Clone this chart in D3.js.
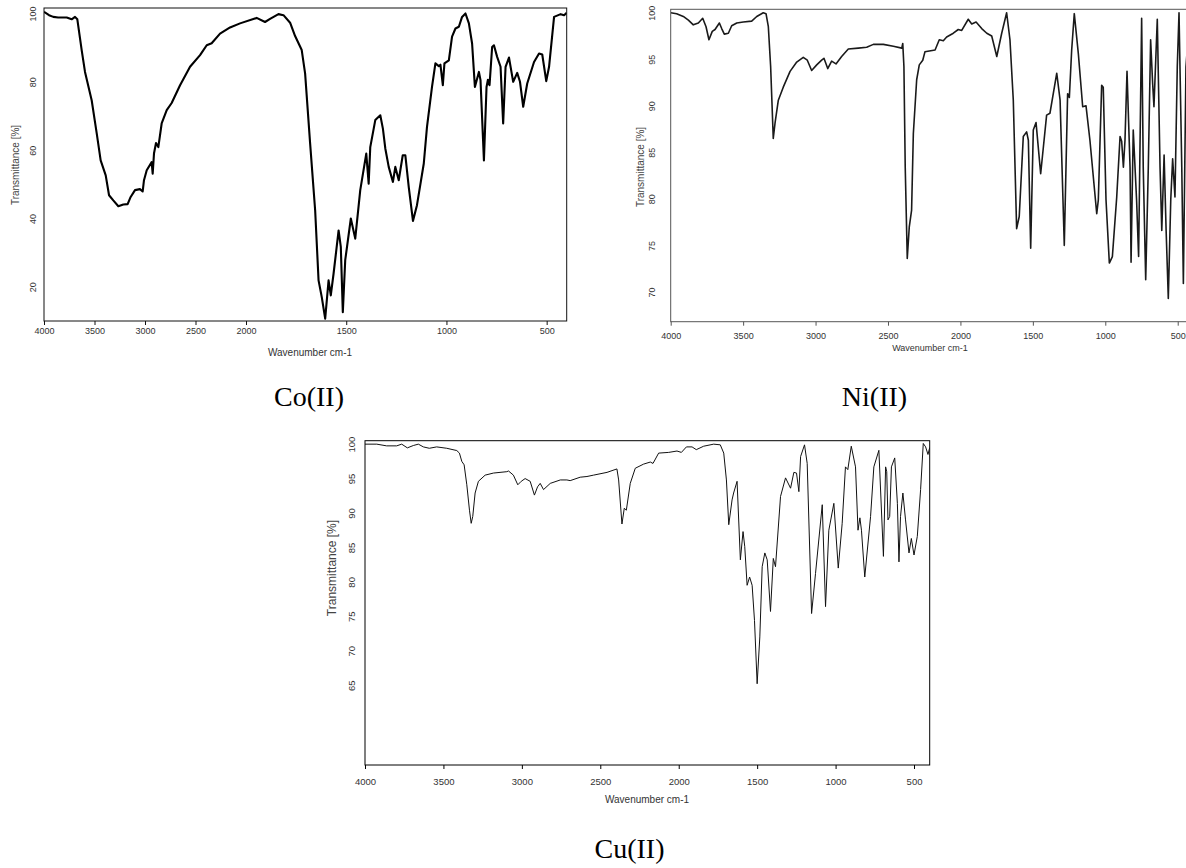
<!DOCTYPE html>
<html>
<head>
<meta charset="utf-8">
<script src="https://cdn.jsdelivr.net/npm/d3@7"></script>
<style>
  html, body { margin: 0; padding: 0; background: #fff; }
  svg { display: block; }
</style>
</head>
<body>
<svg id="chart" width="1186" height="868"></svg>
<script>
// ---------------- DATA ----------------
const xTickValues = [4000, 3500, 3000, 2500, 2000, 1500, 1000, 500];
const coYTicks = [20, 40, 60, 80, 100];
const niYTicks = [70, 75, 80, 85, 90, 95, 100];
const cuYTicks = [65, 70, 75, 80, 85, 90, 95, 100];
const panelTitles = ["Co(II)", "Ni(II)", "Cu(II)"];
const xAxisTitle = "Wavenumber cm-1";
const yAxisTitle = "Transmittance [%]";

const coWavenumber = [4000,3950,3908,3860,3775,3726,3693,3670,3627,3594,3528,3478,3439,3389,3356,3314,3264,3215,3172,3142,3099,3050,3023,3010,2983,2934,2924,2911,2891,2868,2835,2785,2736,2653,2554,2455,2389,2340,2257,2158,2059,1947,1905,1880,1838,1813,1780,1755,1722,1705,1680,1655,1638,1622,1605,1588,1577,1563,1538,1527,1517,1505,1477,1455,1430,1400,1388,1380,1355,1330,1317,1305,1288,1267,1255,1238,1218,1205,1188,1167,1147,1113,1097,1072,1055,1038,1030,1018,1010,988,972,955,938,922,905,888,872,858,838,830,813,800,793,785,772,763,747,730,717,705,688,667,647,633,617,597,563,538,522,502,488,463,430,413,400];
const coTransmittance = [100.5,99.5,99,98.8,98.8,98.3,99,98.3,89.3,82.9,74.6,64.9,57,52.6,46.8,45.3,43.6,44.1,44.2,46.3,48.3,48.6,47.9,51.2,54.1,56.5,53.1,59,62.1,60.9,67.8,71.7,73.8,79,84.4,87.8,90.7,91.3,94.1,95.9,97.1,98.7,97.5,98.4,99.8,99.5,97.3,93.4,89.3,82.4,61.9,42.4,21.9,17,10.7,21.9,17.5,23.9,36.5,31.7,12.6,27.8,40,34.1,48.3,59,50.2,60.9,68.8,70.2,66.3,60.5,55.1,50.7,55.1,51.2,58.5,58.5,49.2,39.3,43.9,56.1,66.8,78.5,85.4,84.6,85,79,85.4,86.3,93.2,95.6,96.1,99,100,97.1,91.2,78.5,82.9,80.5,57,78.5,80.6,79,90.2,90.7,87.3,84.4,67.8,84.4,87.1,80,82.6,80,72.7,79.5,85.8,88.3,88,80.2,84.4,99,99.8,99.5,100.2];

const niWavenumber = [4000,3959,3913,3878,3844,3809,3779,3756,3736,3713,3694,3664,3648,3630,3602,3579,3544,3499,3441,3406,3361,3342,3326,3310,3299,3292,3280,3257,3223,3176,3130,3085,3057,3027,2992,2958,2942,2916,2889,2859,2820,2774,2705,2647,2601,2532,2463,2405,2398,2390,2381,2367,2353,2337,2325,2302,2284,2260,2245,2175,2146,2118,2095,2049,2015,1991,1946,1922,1892,1853,1818,1784,1749,1715,1681,1658,1635,1612,1594,1566,1543,1531,1515,1497,1478,1446,1405,1382,1335,1312,1283,1260,1248,1232,1214,1186,1156,1133,1106,1059,1048,1025,1014,995,972,951,921,898,887,875,864,850,829,822,807,784,770,749,738,721,703,687,673,664,641,622,610,594,580,565,548,535,519,503,491,472,461,443,420];
const niTransmittance = [100,99.9,99.6,99.2,98.7,98.9,99.4,98.5,97.1,98,98.2,98.9,98.3,97.7,97.8,98.6,98.9,99,99.1,99.6,100,99.9,98.5,94.2,89.5,86.5,88.1,90.6,92,93.7,94.7,95.2,94.9,93.8,94.4,94.9,95.1,94,94.8,94.5,95.3,96.1,96.2,96.3,96.6,96.6,96.4,96.2,96.7,94.2,83.4,73.6,77,78.8,87,92.8,94.4,94.9,95.8,96,97.1,97,97.4,97.8,98.2,98.1,99.3,98.8,99,98.3,97.8,97.5,95.3,97.8,100,97.1,90.6,76.8,78.1,86.7,87.2,86.3,74.7,87.4,88.2,82.7,89,89.2,93.5,90.6,75,91.3,90.9,96,99.9,95.6,89.9,90,86.3,78.4,79.9,92.2,92,79.9,73.1,73.8,80.2,86.7,86.2,83.4,86.3,93.7,83.4,73.2,87.4,79.9,73.8,99.4,83.4,71.3,83.4,97.1,92.4,89.9,99.3,83.4,76.6,84.7,76.6,69.3,79.9,84.3,80.2,94.2,100,83.4,70.9,94.2,99];

const cuWavenumber = [4000,3925,3862,3798,3766,3730,3692,3660,3628,3590,3543,3479,3415,3398,3383,3368,3351,3334,3323,3313,3298,3277,3234,3181,3096,3085,3054,3026,3004,2979,2947,2920,2900,2883,2862,2819,2755,2713,2692,2628,2585,2543,2457,2394,2383,2362,2347,2334,2309,2277,2224,2181,2164,2128,2064,2011,1983,1951,1915,1888,1841,1777,1735,1713,1696,1681,1660,1650,1628,1607,1590,1579,1564,1548,1532,1517,1500,1483,1468,1451,1436,1415,1397,1383,1351,1319,1287,1266,1249,1234,1223,1198,1181,1153,1128,1085,1064,1043,1011,983,958,937,922,900,873,857,845,835,814,777,756,724,695,681,674,666,655,644,623,606,596,586,571,554,532,517,500,479,458,441,426,411,400];
const cuTransmittance = [100,100,99.75,99.75,100,99.46,99.8,100,99.6,99.4,99.6,99.4,99.07,98.7,97.5,97,94.1,90.4,88.5,89.5,92.9,94.6,95.5,95.8,96,96.1,95.5,94.1,94.6,95,94.6,92.6,93.8,94.3,93.4,94.3,94.8,94.8,94.7,95.2,95.3,95.5,95.9,96.4,94.8,88.4,90.7,90.4,94.3,96.5,97.1,97.4,97.2,98.7,98.8,99,98.8,99.6,99.6,99.2,99.7,100,99.9,98.7,94.8,88.3,91.9,92.9,94.6,83.2,87.3,85.1,79.5,80.7,79.5,74.4,65.2,72,82.2,84.2,83.2,75.7,83.4,82.2,92.4,95.1,93.6,95.9,95.8,93.1,98.2,99.9,97.2,75.4,81.2,91.2,76.4,87.5,91.4,82,88.5,96.7,96.3,99.7,96.7,87.5,89.3,87.5,80.7,89.5,96.7,99.1,83.7,96.7,96,89,89.5,96.7,98,91.4,82.9,89.5,92.9,89,84.2,86.3,83.9,86.6,93.4,100.1,99.6,98.5,99.5];

// ---------------- LAYOUT ----------------
const svg = d3.select("#chart");
const FONT = "'Liberation Sans', Arial, sans-serif";
const SERIF = "'Liberation Serif', 'Times New Roman', serif";

const panels = [
  {
    id: "co", title: panelTitles[0],
    wn: coWavenumber, tr: coTransmittance, yTicks: coYTicks,
    xDomain: [4000, 2000, 400], xRange: [44, 246, 566.7],
    yDomain: [10, 101.6], yRange: [321, 8],
    lineWidth: 2.1, lineColor: "#000", frameColor: "#111",
    xTickPad: 3, yTickOff: 7.7, tickFont: 9,
    xLabel: {x: 310, y: 355.5, size: 10}, yLabel: {x: 18.5, y: 165, size: 10},
    caption: {x: 309, y: 406}
  },
  {
    id: "ni", title: panelTitles[1],
    wn: niWavenumber, tr: niTransmittance, yTicks: niYTicks,
    xDomain: [4000, 400], xRange: [670.7, 1192.2],
    yDomain: [66.8, 100.37], yRange: [321.7, 9.3],
    lineWidth: 1.6, lineColor: "#1a1a1a", frameColor: "#555",
    xTickPad: 7, yTickOff: 15.7, tickFont: 9,
    xLabel: {x: 930, y: 351, size: 9}, yLabel: {x: 643.5, y: 167, size: 10},
    caption: {x: 874.5, y: 406}
  },
  {
    id: "cu", title: panelTitles[2],
    wn: cuWavenumber, tr: cuTransmittance, yTicks: cuYTicks,
    xDomain: [4000, 400], xRange: [365, 929.7],
    yDomain: [53.4, 100.5], yRange: [765, 440.7],
    lineWidth: 1, lineColor: "#111", frameColor: "#000",
    xTickPad: 9, yTickOff: 10, tickFont: 9.5,
    xLabel: {x: 647, y: 802.5, size: 10}, yLabel: {x: 336, y: 568, size: 12},
    caption: {x: 629.5, y: 858}
  }
];

panels.forEach(p => {
  const x = d3.scaleLinear().domain(p.xDomain).range(p.xRange);
  const y = d3.scaleLinear().domain(p.yDomain).range(p.yRange);
  const x0 = p.xRange[0], x1 = p.xRange[p.xRange.length - 1];
  const yTop = p.yRange[1], yBot = p.yRange[0];

  const g = svg.append("g").attr("class", "panel-" + p.id);

  // clip
  svg.append("defs").append("clipPath").attr("id", "clip-" + p.id)
    .append("rect").attr("x", x0).attr("y", yTop)
    .attr("width", x1 - x0).attr("height", yBot - yTop);

  // spectrum line
  const pts = p.wn.map((w, i) => [w, p.tr[i]]);
  const line = d3.line().x(d => x(d[0])).y(d => y(d[1]));
  g.append("path")
    .datum(pts)
    .attr("clip-path", "url(#clip-" + p.id + ")")
    .attr("fill", "none")
    .attr("stroke", p.lineColor)
    .attr("stroke-width", p.lineWidth)
    .attr("stroke-linejoin", "round")
    .attr("d", line);

  // frame
  g.append("rect")
    .attr("x", x0).attr("y", yTop)
    .attr("width", x1 - x0).attr("height", yBot - yTop)
    .attr("fill", "none").attr("stroke", p.frameColor).attr("stroke-width", 1);

  // x axis
  const xAxis = d3.axisBottom(x).tickValues(xTickValues).tickSize(4)
    .tickSizeOuter(0).tickPadding(p.xTickPad).tickFormat(d3.format("d"));
  const gx = g.append("g").attr("transform", `translate(0,${yBot})`).call(xAxis);
  gx.select(".domain").remove();
  gx.selectAll("line").attr("stroke", p.frameColor);
  gx.selectAll("text").attr("font-family", FONT).attr("font-size", p.tickFont).attr("fill", "#333");

  // y axis with rotated labels
  const yAxis = d3.axisLeft(y).tickValues(p.yTicks).tickSize(0).tickSizeOuter(0);
  const gy = g.append("g").attr("transform", `translate(${x0},0)`).call(yAxis);
  gy.select(".domain").remove();
  gy.selectAll("text")
    .attr("x", 0).attr("dy", 0)
    .attr("transform", `translate(${-p.yTickOff},0) rotate(-90)`)
    .attr("text-anchor", "middle")
    .attr("font-family", FONT).attr("font-size", p.tickFont).attr("fill", "#333");

  // axis titles
  g.append("text")
    .attr("x", p.xLabel.x).attr("y", p.xLabel.y)
    .attr("text-anchor", "middle")
    .attr("font-family", FONT).attr("font-size", p.xLabel.size).attr("fill", "#333")
    .text(xAxisTitle);
  g.append("text")
    .attr("transform", `translate(${p.yLabel.x},${p.yLabel.y}) rotate(-90)`)
    .attr("text-anchor", "middle")
    .attr("font-family", FONT).attr("font-size", p.yLabel.size).attr("fill", "#444")
    .text(yAxisTitle);

  // caption
  svg.append("text")
    .attr("x", p.caption.x).attr("y", p.caption.y)
    .attr("text-anchor", "middle")
    .attr("font-family", SERIF).attr("font-size", 28).attr("fill", "#000")
    .text(p.title);
});
</script>
</body>
</html>
